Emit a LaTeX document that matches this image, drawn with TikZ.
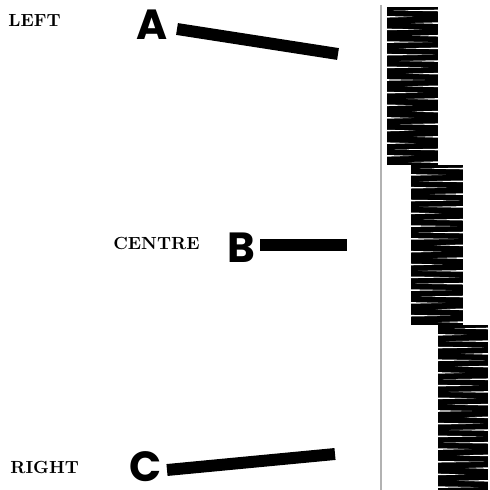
\documentclass[tikz,border=0pt]{standalone}
\usepackage{fontspec}
\newfontfamily\lettersans{Poppins}
% black trace block with thin white streaks, alternately from right and left
\newcommand{\traceblock}[5]{%
  \fill[black] (#1,#2) rectangle (#3,#4);
  \pgfmathsetmacro{\gap}{(#4-#2)/#5}
  \foreach \i in {1,...,#5}{
    \pgfmathsetmacro{\yy}{#2+(\i-0.45)*\gap}
    \pgfmathsetmacro{\len}{(#3-#1)*(0.45+0.5*rnd)}
    \ifodd\i
      \fill[white] (#3+0.5,\yy-0.8) -- (#3+0.5,\yy+0.8) -- ({#3-\len},\yy) -- cycle;
    \else
      \fill[white] (#1-0.5,\yy-0.8) -- (#1-0.5,\yy+0.8) -- ({#1+\len},\yy) -- cycle;
    \fi
  }
}
\begin{document}
\begin{tikzpicture}[x=0.02cm, y=-0.02cm,
  side/.style={font=\bfseries, inner sep=0pt},
  letter/.style={font=\lettersans\bfseries\fontsize{24}{24}\selectfont, inner sep=0pt},
  bar/.style={line width=6.8pt, line cap=butt}]
\useasboundingbox (0,0) rectangle (490,490);
\pgfmathsetseed{7}
% labels
\node[side, anchor=base west] (left) at (8,27) {LEFT};
\node[side, anchor=base west] (centre) at (113,249) {CENTRE};
\node[side, anchor=base west] (right) at (10,473) {RIGHT};
\node[letter] (a) at (152,25) {A};
\node[letter] (b) at (241,248) {B};
\node[letter] (c) at (146,467) {C};
% bars
\coordinate (a1) at (177,29);
\coordinate (a2) at (338,54);
\coordinate (b1) at (260,245);
\coordinate (b2) at (347,245);
\coordinate (c1) at (167,470);
\coordinate (c2) at (335,454);
\draw[bar] (a1) -- (a2);
\draw[bar] (b1) -- (b2);
\draw[bar] (c1) -- (c2);
% record
\draw[gray!60, line width=0.9pt] (381,5) -- (381,490);
\traceblock{387}{7}{438}{165}{25}
\traceblock{411}{165}{463}{325}{25}
\traceblock{438}{325}{488}{490}{26}
\end{tikzpicture}
\end{document}
